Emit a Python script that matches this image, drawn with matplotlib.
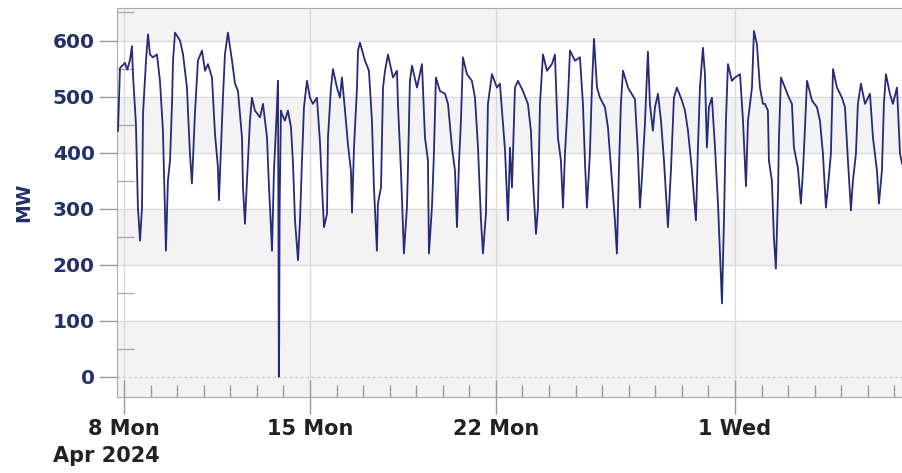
import matplotlib
matplotlib.use("Agg")
import matplotlib.pyplot as plt
import matplotlib.dates as mdates
import numpy as np

# hours since 8 Apr 2024 00:00 and load in MW
hours = [-5.4, -3.6, 0.9, 3.0, 5.4, 7.2, 8.1, 10.8, 12.6, 14.5, 16.3, 17.2, 19.9, 21.7,
         23.5, 26.2, 29.8, 32.5, 35.2, 37.0, 37.9, 39.7, 41.6, 43.4, 44.3, 46.1, 50.6,
         53.3, 56.9, 57.8, 59.6, 61.4, 64.1, 66.8, 70.5, 73.2, 75.9, 79.5, 82.2, 84.9,
         85.8, 87.6, 89.4, 91.2, 93.9, 97.6, 100.3, 103.0, 106.6, 107.5, 109.3, 111.1,
         113.8, 115.6, 118.3, 122.9, 125.6, 129.2, 131.0, 132.8, 133.7, 135.5, 138.2,
         139.1, 139.5, 139.9, 140.2, 140.6, 141.8, 142.7, 145.4, 148.1, 150.9, 152.7,
         154.5, 157.2, 159.0, 160.8, 162.6, 165.3, 168.0, 170.7, 174.3, 177.0, 178.9,
         180.7, 183.4, 184.3, 187.0, 188.8, 192.4, 195.1, 196.9, 200.5, 202.3, 205.0,
         206.0, 207.8, 210.5, 211.4, 213.2, 217.7, 221.3, 224.0, 225.8, 228.5, 229.4,
         232.2, 234.0, 235.8, 238.5, 243.0, 246.6, 247.5, 250.2, 252.0, 252.9, 255.6,
         256.5, 258.3, 260.2, 264.7, 269.2, 271.9, 274.6, 275.5, 278.2, 280.0, 281.8,
         285.4, 290.0, 292.7, 296.3, 299.0, 300.8, 302.6, 304.4, 306.2, 309.8, 314.3,
         317.1, 319.8, 322.5, 324.3, 327.0, 328.8, 332.4, 336.9, 339.6, 344.2, 346.9,
         348.7, 350.5, 353.2, 355.9, 360.4, 364.9, 367.6, 369.5, 372.2, 374.0, 375.8,
         378.5, 382.1, 386.6, 389.3, 392.0, 394.7, 396.6, 398.4, 401.1, 402.9, 407.4,
         411.9, 414.6, 416.4, 418.2, 420.9, 422.7, 424.6, 427.3, 430.0, 434.5, 437.2,
         440.8, 443.5, 445.3, 447.1, 448.9, 450.8, 455.3, 461.6, 464.3, 466.1, 467.9,
         470.6, 473.3, 475.1, 477.8, 479.7, 482.4, 485.1, 487.8, 491.4, 494.1, 496.8,
         499.5, 504.0, 506.8, 509.5, 513.1, 514.9, 516.7, 518.5, 520.3, 523.0, 524.8,
         526.6, 528.4, 531.1, 533.9, 536.6, 538.4, 540.2, 542.0, 543.8, 545.6, 549.2,
         551.9, 556.5, 559.2, 561.9, 563.7, 567.3, 569.1, 571.8, 574.5, 577.2, 579.0,
         581.7, 582.6, 585.3, 587.1, 588.9, 590.8, 591.7, 593.5, 597.1, 600.7, 603.4,
         605.2, 608.8, 611.5, 613.4, 615.2, 617.0, 621.5, 626.0, 628.7, 631.4, 634.1,
         635.9, 638.6, 640.5, 644.1, 648.6, 651.3, 654.0, 656.7, 658.5, 661.2, 663.0,
         665.7, 669.4, 673.9, 676.6, 680.2, 682.0, 684.7, 686.5, 688.3, 691.9, 694.6,
         698.3, 701.0, 703.0]
mw = [439, 551, 560, 548, 565, 590, 540, 451, 302, 243, 302, 469, 564, 611,
      575, 570, 575, 528, 439, 291, 225, 350, 386, 487, 564, 614, 600,
      576, 516, 475, 398, 345, 469, 564, 582, 546, 558, 534, 434, 373,
      315, 409, 498, 575, 614, 564, 523, 510, 427, 338, 273, 350,
      457, 498, 475, 463, 487, 427, 338, 267, 225, 368, 481,
      528, 300, 0, 60, 300, 475, 469, 457, 475, 445, 380,
      279, 208, 279, 386, 481, 528, 498, 487, 498, 421, 338,
      267, 291, 427, 516, 549, 516, 498, 534, 457, 415, 368,
      293, 409, 516, 582, 596, 564, 546, 457, 338, 225, 309,
      338, 516, 546, 575, 534, 546, 487, 368, 267, 220, 302,
      368, 528, 555, 516, 558, 427, 386, 220, 302, 398, 534,
      510, 505, 487, 409, 368, 267, 380, 457, 570, 540, 528,
      498, 409, 279, 220, 291, 487, 540, 516, 523, 405, 279,
      409, 338, 516, 528, 510, 487, 439, 350, 255, 302, 487,
      575, 546, 558, 575, 427, 386, 302, 398, 498, 582, 564,
      570, 487, 386, 302, 398, 516, 603, 516, 498, 481, 445,
      350, 279, 220, 368, 487, 546, 516, 495, 398, 302, 355,
      451, 580, 487, 439, 481, 505, 457, 386, 267, 368, 498,
      516, 493, 475, 439, 368, 320, 279, 409, 516, 587, 540,
      409, 481, 498, 409, 309, 220, 131, 279, 457, 558, 528,
      534, 540, 457, 340, 457, 516, 617, 593, 516, 487, 487,
      475, 386, 350, 249, 193, 327, 427, 534, 516, 498, 487,
      409, 373, 309, 368, 445, 528, 493, 481, 457, 398, 302,
      338, 398, 549, 516, 498, 481, 386, 297, 350, 398, 487,
      523, 487, 505, 427, 368, 309, 368, 487, 540, 505, 487,
      516, 398, 380]

start = np.datetime64("2024-04-08T00:00")
times = start + (np.array(hours) * 60).round().astype("timedelta64[m]")

fig = plt.figure(figsize=(9.02, 4.73), dpi=100)
ax = fig.add_axes([117 / 902, 76 / 473, 1 - 117 / 902, (397 - 8) / 473])

ymin, ymax = -36, 658
ax.set_ylim(ymin, ymax)
ax.set_xlim(start - np.timedelta64(378, "m"), start + np.timedelta64(42170, "m"))

# alternating bands
for lo, hi in [(ymin, 100), (200, 300), (400, 500), (600, ymax)]:
    ax.axhspan(lo, hi, color="#f3f3f3", zorder=0, lw=0)
for v in [100, 200, 300, 400, 500, 600]:
    ax.axhline(v, color="#dadada", lw=1, zorder=1)
ax.axhline(0, color="#cfcfcf", lw=1, ls=(0, (2, 2)), zorder=1)

ax.plot(times, mw, color="#262a7a", lw=1.3, zorder=3)

ax.xaxis.set_major_locator(mdates.DayLocator(bymonthday=[8, 15, 22, 1]))
ax.xaxis.set_minor_locator(mdates.DayLocator())
ax.xaxis.set_major_formatter(mdates.DateFormatter("%-d %a"))
for d in ["2024-04-08", "2024-04-15", "2024-04-22", "2024-05-01"]:
    ax.axvline(np.datetime64(d), color="#dadada", lw=1, zorder=1)

ax.set_yticks([0, 100, 200, 300, 400, 500, 600])
ax.set_yticks(np.arange(50, 651, 100), minor=True)

ax.tick_params(axis="x", which="major", direction="inout", length=25, width=1,
               color="#999999", pad=3, labelsize=15, labelcolor="#222222")
ax.tick_params(axis="x", which="minor", direction="in", length=9, width=1, color="#999999")
ax.tick_params(axis="y", which="major", direction="out", length=13, width=1,
               color="#999999", pad=3, labelsize=14.5, labelcolor="#23306a")
ax.tick_params(axis="y", which="minor", direction="in", length=12, width=1, color="#aaaaaa")
for lab in ax.get_xticklabels() + ax.get_yticklabels():
    lab.set_fontweight("bold")

for s in ["left", "bottom", "top"]:
    ax.spines[s].set_color("#aaaaaa")
ax.spines["right"].set_visible(False)

ax.set_ylabel("MW", fontsize=13.5, fontweight="bold", color="#23306a", labelpad=14)
fig.text(160 / 902, 1 - 456 / 473, "Apr 2024", ha="right", va="center",
         fontsize=15, fontweight="bold", color="#222222")

fig.savefig("out.png", dpi=100)
